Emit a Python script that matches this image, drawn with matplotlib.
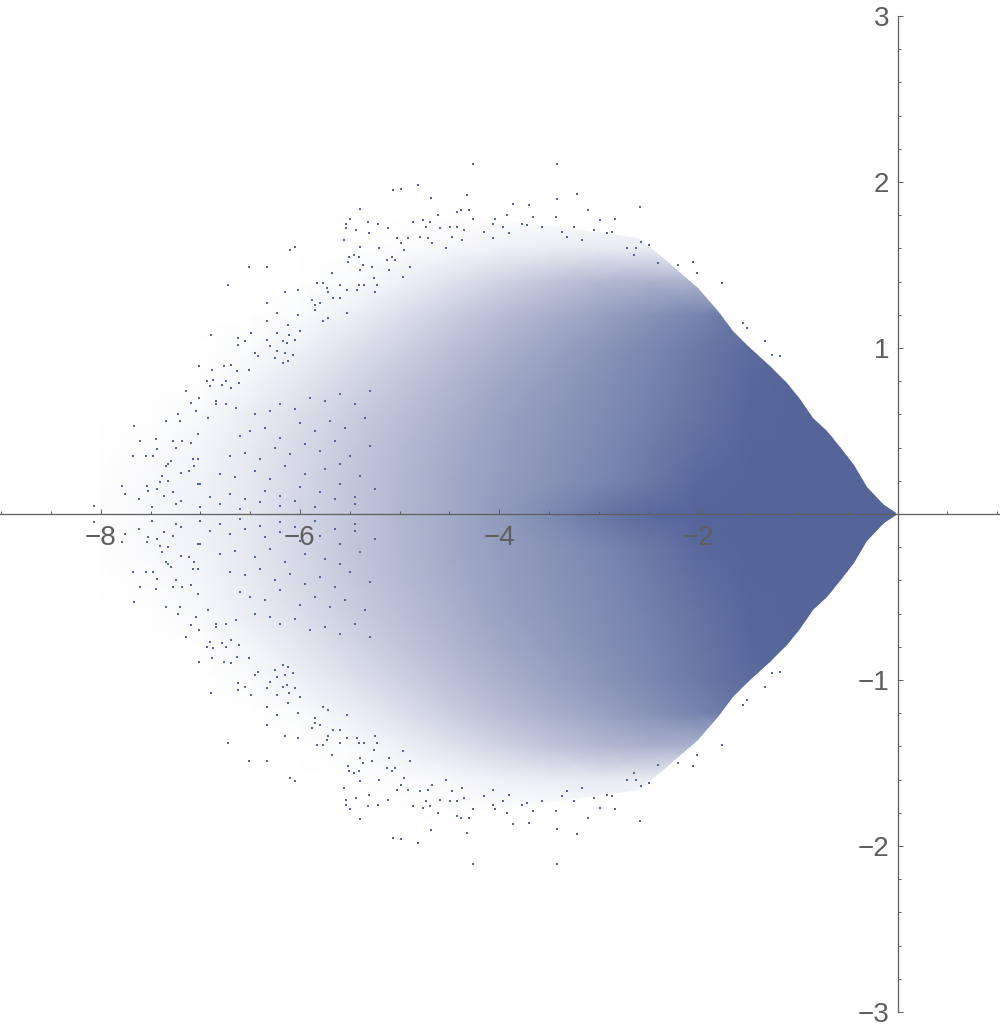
import numpy as np
import matplotlib
matplotlib.use("Agg")
import matplotlib.pyplot as plt
from matplotlib.colors import LinearSegmentedColormap
from matplotlib.patches import Polygon

plt.rcParams['font.family'] = ['Liberation Sans', 'DejaVu Sans']

BLUE = '#55659A'
GREY = '#5E5E5E'

# Tick values
x_major = [-8, -6, -4, -2]
x_labels = ['\u22128', '\u22126', '\u22124', '\u22122']
x_minor = [-9, -8.5, -7.5, -7, -6.5, -5.5, -5, -4.5, -3.5, -3, -2.5, -1.5, -1, -0.5, 0.5, 1]
y_major = [-3, -2, -1, 1, 2, 3]
y_labels = ['\u22123', '\u22122', '\u22121', '1', '2', '3']
y_minor = [-2.8, -2.6, -2.4, -2.2, -1.8, -1.6, -1.4, -1.2, -0.8, -0.6, -0.4, -0.2,
           0.2, 0.4, 0.6, 0.8, 1.2, 1.4, 1.6, 1.8, 2.2, 2.4, 2.6, 2.8]

# Share of pixels covered by points (upper half; lower half is its mirror)
cover_x = [-8, -7.5, -7, -6.5, -6, -5.5, -5, -4.5, -4, -3.5, -3, -2.5, -2, -1.5, -1, -0.5, 0]
cover_y = [0, 0.2, 0.4, 0.6, 0.8, 1.0, 1.2, 1.4, 1.6, 1.8, 2.0]
cover = [
    [.02, .04, .09, .15, .26, .36, .46, .55, .65, .75, .88, .96, 1, 1, 1, 1, 1],
    [.01, .04, .08, .15, .25, .36, .45, .55, .63, .70, .78, .87, .97, 1, 1, 1, 1],
    [0, .02, .07, .14, .24, .34, .44, .53, .62, .69, .76, .84, .93, .99, 1, 1, 1],
    [0, .01, .04, .12, .21, .31, .41, .50, .60, .67, .74, .82, .90, .98, 1, 1, 1],
    [0, 0, .01, .07, .16, .26, .36, .46, .56, .64, .72, .80, .88, .97, 1, 1, 1],
    [0, 0, 0, .03, .09, .19, .29, .40, .50, .59, .68, .77, .86, .95, 1, 1, 1],
    [0, 0, 0, 0, .03, .10, .20, .31, .42, .51, .60, .70, .80, .92, 1, 1, 1],
    [0, 0, 0, 0, 0, .03, .09, .18, .28, .37, .45, .50, .50, .30, 0, 0, 0],
    [0, 0, 0, 0, 0, 0, .02, .05, .09, .12, .14, .12, 0, 0, 0, 0, 0],
    [0, 0, 0, 0, 0, 0, 0, .005, .01, .005, 0, 0, 0, 0, 0, 0, 0],
    [0, 0, 0, 0, 0, 0, 0, 0, 0, 0, 0, 0, 0, 0, 0, 0, 0],
]

# Right-hand outer edge of the filled body
edge_x = [-9.0, -2.6, -2.3, -2.0, -1.8, -1.65, -1.48, -1.28, -1.11, -0.98, -0.85, -0.71, -0.58, -0.44, -0.31, -0.14, -0.02]
edge_y = [2.2, 1.66, 1.52, 1.36, 1.22, 1.10, 1.00, 0.89, 0.79, 0.69, 0.58, 0.50, 0.405, 0.295, 0.165, 0.054, 0.004]

# Individual points (upper half)
pts_x = [-4.81, -5.07, -4.98, -4.68, -4.61, -5.40, -5.50, -5.54, -5.54, -5.32, -5.22, -5.44, -5.12, -4.86, -4.76,
         -4.69, -4.73, -4.59, -5.31, -5.56, -5.03, -4.91, -4.79, -4.71, -5.40, -5.21, -6.05, -6.10, -4.98, -4.95,
         -4.67, -4.53, -5.46, -5.51, -5.41, -5.52, -5.08, -5.13, -5.05, -5.37, -5.28, -6.51, -6.33, -4.89, -5.11,
         -5.40, -5.68, -5.26, -4.96, -6.72, -5.83, -5.77, -5.60, -5.41, -5.36, -5.23, -5.73, -6.02, -6.15, -5.53,
         -5.72, -5.43, -5.25, -5.88, -5.67, -5.60, -6.33, -5.85, -5.80, -5.85, -6.02, -6.23, -6.33, -6.12, -5.72,
         -5.77, -5.53, -6.89, -6.49, -6.62, -6.23, -6.00, -6.55, -6.62, -6.33, -6.17, -6.11, -6.05, -6.30, -6.13,
         -6.45, -6.42, -6.23, -6.25, -7.01, -6.88, -6.76, -6.69, -6.63, -6.51, -6.15, -6.07, -6.17, -6.12, -6.93,
         -6.87, -6.90, -7.14, -7.01, -6.74, -6.69, -6.78, -6.61, -7.09, -6.84, -6.84, -6.74, -6.64, -7.04, -7.22,
         -7.20, -7.34, -6.92, -7.67, -7.02, -7.44, -7.61, -7.27, -7.18, -7.09, -7.24, -7.43, -7.68, -7.55, -7.47,
         -7.07, -7.02, -7.32, -7.34, -7.29, -7.19, -7.11, -7.06, -7.38, -7.32, -7.40, -7.79, -7.54, -7.76, -7.53,
         -7.43, -7.62, -7.27, -8.07, -7.48, -7.00, -7.02, -7.36, -7.19, -7.24,
         -4.26, -3.42, -4.32, -3.42, -3.22, -3.86, -3.70, -2.59, -4.42, -4.38, -4.30, -3.11, -4.26, -4.04, -3.92,
         -3.66, -3.43, -2.99, -2.84, -4.06, -3.96, -3.77, -3.72, -4.49, -4.42, -4.35, -4.15, -3.90, -3.57, -3.37,
         -3.25, -3.05, -2.92, -2.87, -3.32, -3.17, -4.06, -4.47, -4.37, -2.58, -2.50, -2.63, -2.72, -2.65, -2.05,
         -2.40, -2.20, -2.01, -1.76, -1.55, -1.51, -1.33, -1.18, -1.26,
         -6.45, -6.30, -6.20, -6.05, -5.90, -5.75, -5.60, -5.45, -5.30, -6.60, -6.50, -6.35, -6.20, -6.00, -5.85,
         -5.70, -5.55, -5.35, -6.70, -6.55, -6.40, -6.25, -6.10, -5.95, -5.80, -5.65, -5.50, -5.30, -6.80, -6.65,
         -6.45, -6.30, -6.15, -5.95, -5.75, -5.60, -5.40, -6.90, -6.70, -6.55, -6.35, -6.20, -6.00, -5.80, -5.60,
         -5.45, -5.25, -7.00, -6.80, -6.60, -6.40, -6.20, -6.05, -5.85, -5.65, -5.45]
pts_y = [1.98, 1.95, 1.96, 1.905, 1.80, 1.84, 1.78, 1.75, 1.72, 1.76, 1.75, 1.71, 1.72, 1.76, 1.77,
         1.76, 1.73, 1.72, 1.69, 1.65, 1.66, 1.66, 1.67, 1.66, 1.61, 1.60, 1.61, 1.59, 1.63, 1.59,
         1.63, 1.60, 1.56, 1.55, 1.55, 1.52, 1.55, 1.53, 1.53, 1.50, 1.49, 1.49, 1.49, 1.49, 1.47,
         1.47, 1.45, 1.42, 1.43, 1.38, 1.39, 1.39, 1.38, 1.38, 1.38, 1.38, 1.36, 1.35, 1.34, 1.35,
         1.34, 1.35, 1.34, 1.29, 1.30, 1.30, 1.27, 1.26, 1.27, 1.23, 1.20, 1.21, 1.16, 1.14, 1.18,
         1.16, 1.21, 1.08, 1.09, 1.06, 1.09, 1.10, 1.04, 1.02, 1.05, 1.04, 1.08, 1.05, 1.01, 1.03,
         .97, .95, .98, .94, .89, .87, .89, .90, .86, .87, .97, .96, .91, .92, .80,
         .81, .77, .74, .70, .80, .76, .78, .79, .67, .68, .66, .66, .64, .62, .60,
         .56, .56, .58, .53, .48, .45, .44, .44, .44, .43, .40, .39, .35, .35, .35,
         .33, .33, .30, .29, .32, .25, .26, .29, .23, .20, .19, .17, .17, .12, .14,
         .15, .09, .13, .05, .04, .18, .18, .11, .08, .06,
         2.11, 2.11, 1.92, 1.90, 1.93, 1.87, 1.86, 1.85, 1.82, 1.83, 1.83, 1.83, 1.78, 1.78, 1.80,
         1.79, 1.79, 1.77, 1.78, 1.75, 1.73, 1.75, 1.74, 1.73, 1.73, 1.71, 1.70, 1.69, 1.73, 1.70,
         1.73, 1.71, 1.69, 1.70, 1.67, 1.65, 1.66, 1.67, 1.65, 1.64, 1.62, 1.60, 1.60, 1.56, 1.52,
         1.51, 1.50, 1.45, 1.39, 1.15, 1.12, 1.04, .95, .96,
         .60, .62, .66, .63, .70, .68, .72, .66, .74, .47, .50, .52, .46, .55, .50,
         .56, .52, .58, .35, .37, .33, .40, .36, .42, .38, .44, .35, .41, .24, .22,
         .26, .21, .29, .24, .27, .30, .23, .10, .12, .09, .14, .11, .16, .13, .18,
         .10, .15, .04, .06, .03, .07, .05, .08, .04, .09, .06]

fig = plt.figure(figsize=(10, 10.3), dpi=100)
ax = fig.add_axes([0, 0, 1, 1])
ax.set_xlim(-897.5 / 99.6, 102.5 / 99.6)
ax.set_ylim(-516 / 166, 514 / 166)

cmap = LinearSegmentedColormap.from_list('cover', ['white', BLUE])
c = np.array(cover)
yy = np.array(cover_y)
full_y = np.concatenate([-yy[:0:-1], yy])
full_c = np.vstack([c[:0:-1], c])
mesh = ax.pcolormesh(cover_x, full_y, full_c, cmap=cmap, vmin=0, vmax=1,
                     shading='gouraud', zorder=1, rasterized=True)
ex = np.array(edge_x)
ey = np.array(edge_y)
clip = Polygon(np.column_stack([np.concatenate([ex, ex[::-1]]),
                                np.concatenate([ey, -ey[::-1]])]),
               closed=True, transform=ax.transData, fc='none', ec='none')
ax.add_patch(clip)
mesh.set_clip_path(clip)

px = np.array(pts_x)
py = np.array(pts_y)
ax.scatter(np.concatenate([px, px]), np.concatenate([py, -py]), s=3.6, marker='s',
           c=BLUE, linewidths=0, zorder=1.5)

for side in ('top', 'right'):
    ax.spines[side].set_visible(False)
ax.spines['left'].set_position(('data', 0))
ax.spines['bottom'].set_position(('data', 0))
ax.spines['left'].set_bounds(-3, 3)
for side in ('left', 'bottom'):
    ax.spines[side].set_color(GREY)
    ax.spines[side].set_linewidth(0.9)

ax.set_xticks(x_major, x_labels)
ax.set_xticks(x_minor, minor=True)
ax.set_yticks(y_major, y_labels)
ax.set_yticks(y_minor, minor=True)
ax.tick_params(axis='both', which='major', direction='in', length=3.4, width=0.7,
               color=GREY, labelcolor=GREY, labelsize=20)
ax.tick_params(axis='both', which='minor', direction='in', length=2.2, width=0.7, color=GREY)
ax.tick_params(axis='x', which='major', pad=8)
ax.tick_params(axis='y', which='major', pad=6)

fig.savefig('out.png', dpi=100, facecolor='white')
